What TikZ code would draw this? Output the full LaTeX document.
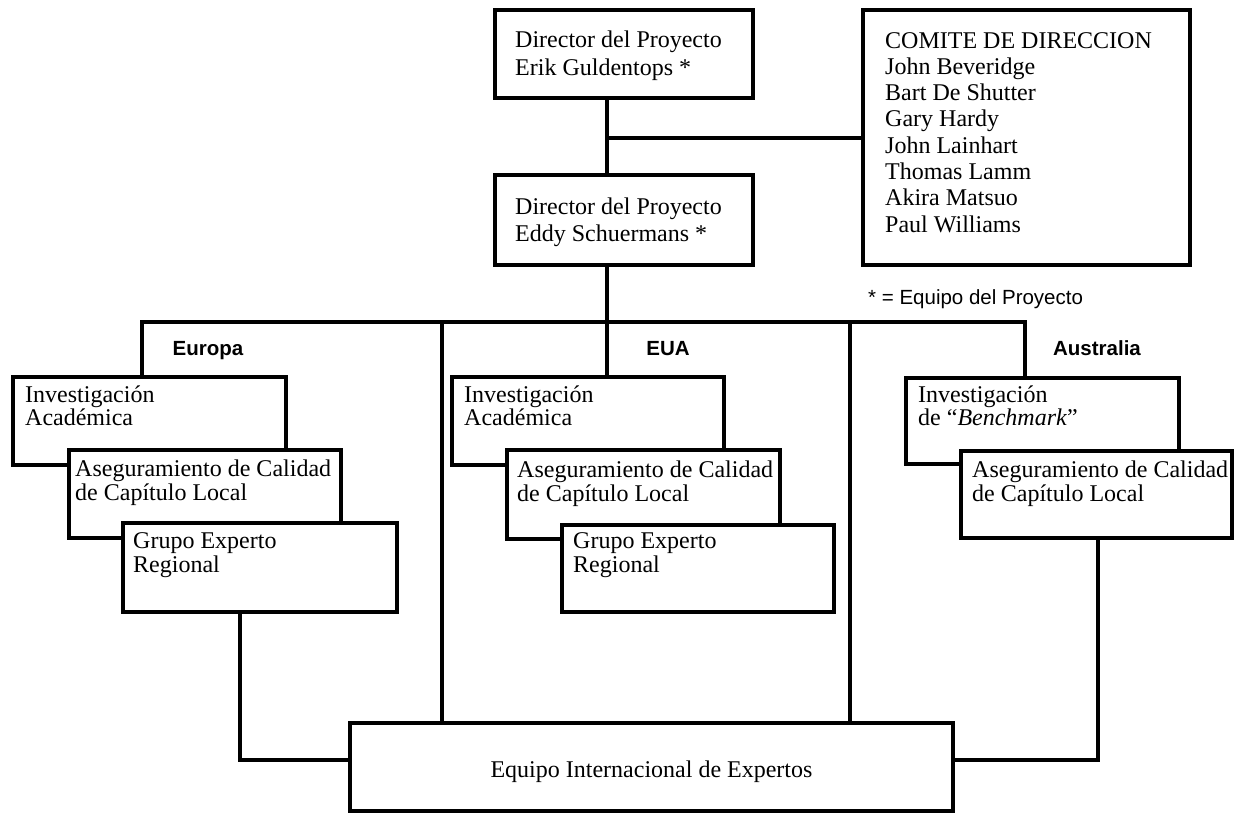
\documentclass[tikz,border=0pt]{standalone}
\usepackage{fontspec}
\setmainfont{Liberation Serif}
\newfontfamily\labelsans{Liberation Sans}

% framed box given by its left, top, right and bottom edges (y grows downwards)
\newcommand\panel[5]{%
  \node[frame, anchor=north west, minimum width={#4-#2}, minimum height={#5-#3}] (#1) at (#2,#3) {};}

\begin{document}
\begin{tikzpicture}[x=1pt, y=-1pt,
  frame/.style={draw=black, line width=4.2pt, fill=white, rectangle, inner sep=0pt, outer sep=0pt},
  wire/.style={draw=black, line width=4.2pt, line join=miter},
  body/.style={anchor=base west, inner sep=0pt, font=\fontsize{24}{24}\selectfont},
  region/.style={anchor=base, inner sep=0pt, font=\labelsans\bfseries\fontsize{20.5}{22}\selectfont},
  legend/.style={anchor=base west, inner sep=0pt, font=\labelsans\fontsize{20.5}{22}\selectfont},
]
\useasboundingbox (0,0) rectangle (1236,815);

% routing points of the connectors
\coordinate (trunk) at (607,0);
\coordinate (j1) at (607,138);
\coordinate (busL) at (142,322);
\coordinate (busR) at (1025,322);
\coordinate (dropA) at (442,322);
\coordinate (dropB) at (850,322);
\coordinate (euR) at (240,760);
\coordinate (auR) at (1098,760);

% project direction
\panel{dir1}{495}{10}{753}{98}
\node[body] (t-dir1) at (515,47) {\vtop{\baselineskip=28pt
  \hbox{Director del Proyecto}\hbox{Erik Guldentops *}}};
\panel{dir2}{495}{175}{753}{265}
\node[body] (t-dir2) at (515,214) {\vtop{\baselineskip=27pt
  \hbox{Director del Proyecto}\hbox{Eddy Schuermans *}}};
\panel{com}{863}{10}{1190}{265}
\node[body] (t-com) at (885,48) {\vtop{\baselineskip=26.3pt
  \hbox{COMITE DE DIRECCION}\hbox{John Beveridge}\hbox{Bart De Shutter}
  \hbox{Gary Hardy}\hbox{John Lainhart}\hbox{Thomas Lamm}
  \hbox{Akira Matsuo}\hbox{Paul Williams}}};

% Europa
\panel{euinv}{13}{377}{286}{465}
\node[body] (t-euinv) at (25,402) {\vtop{\baselineskip=23pt
  \hbox{Investigación}\hbox{Académica}}};
\panel{euaseg}{69}{450}{341}{538}
\node[body] (t-euaseg) at (75,476) {\vtop{\baselineskip=24.5pt
  \hbox{Aseguramiento de Calidad}\hbox{de Capítulo Local}}};
\panel{eugrp}{123}{523}{397}{612}
\node[body] (t-eugrp) at (133,548) {\vtop{\baselineskip=24pt
  \hbox{Grupo Experto}\hbox{Regional}}};

% EUA
\panel{usinv}{452}{377}{724}{465}
\node[body] (t-usinv) at (464,402) {\vtop{\baselineskip=23pt
  \hbox{Investigación}\hbox{Académica}}};
\panel{usaseg}{507}{450}{780}{539}
\node[body] (t-usaseg) at (517,477) {\vtop{\baselineskip=24pt
  \hbox{Aseguramiento de Calidad}\hbox{de Capítulo Local}}};
\panel{usgrp}{562}{525}{834}{612}
\node[body] (t-usgrp) at (573,548) {\vtop{\baselineskip=24pt
  \hbox{Grupo Experto}\hbox{Regional}}};

% Australia
\panel{auinv}{906}{378}{1179}{464}
\node[body] (t-auinv) at (918,402) {\vtop{\baselineskip=23pt
  \hbox{Investigación}\hbox{de ``\textit{Benchmark}''}}};
\panel{auaseg}{961}{451}{1232}{538}
\node[body] (t-auaseg) at (972,477) {\vtop{\baselineskip=24pt
  \hbox{Aseguramiento de Calidad}\hbox{de Capítulo Local}}};

% international team
\panel{team}{350}{723}{953}{811}
\node[body, anchor=base] (t-team) at (651.5,777) {Equipo Internacional de Expertos};

% region headings and legend
\node[region] (l-eu) at (208,355) {Europa};
\node[region] (l-us) at (668,355) {EUA};
\node[region] (l-au) at (1097,355) {Australia};
\node[legend] (l-key) at (868,304) {* = Equipo del Proyecto};

% connectors
\draw[wire] (dir1.south -| trunk) -- (dir2.north -| trunk);
\draw[wire] (j1) -- (j1 -| com.west);
\draw[wire] (dir2.south -| trunk) -- (usinv.north -| trunk);
\draw[wire] (euinv.north -| busL) -- (busL) -- (busR) -- (auinv.north -| busR);
\draw[wire] (dropA) -- (dropA |- team.north);
\draw[wire] (dropB) -- (dropB |- team.north);
\draw[wire] (eugrp.south -| euR) -- (euR) -- (euR -| team.west);
\draw[wire] (auaseg.south -| auR) -- (auR) -- (auR -| team.east);
\end{tikzpicture}
\end{document}
